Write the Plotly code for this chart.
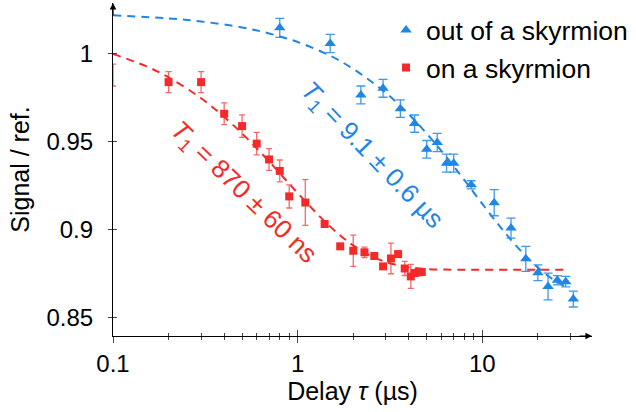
import plotly.graph_objects as go

# ---- data ----
red_x = [0.2, 0.3, 0.4, 0.5, 0.6, 0.7, 0.8, 0.9, 1.1, 1.4, 1.7, 2.0, 2.3, 2.6, 2.9,
         3.2, 3.5, 3.8, 4.1, 4.3, 4.5, 4.7]
red_y = [0.984, 0.984, 0.966, 0.959, 0.949, 0.940, 0.9335, 0.919, 0.9155, 0.9033,
         0.8906, 0.8881, 0.8872, 0.8851, 0.8792, 0.8837, 0.8862, 0.878, 0.8735,
         0.8754, 0.8758, 0.876]
red_err = [0.006, 0.006, 0.0062, 0.0064, 0.0064, 0.0062, 0.0062, 0.0066, 0.013,
           0.001, 0.0015, 0.0089, 0.003, 0.0015, 0.0015, 0.0087, 0.0015, 0.004,
           0.0068, 0.0015, 0.0015, 0.0015]
# point sitting on the left axis edge (only its error bar is visible)
red_edge_x = [0.1]
red_edge_y = [0.988]
red_edge_err = [0.0062]

blue_x = [0.8, 1.5, 2.2, 2.9, 3.6, 4.3, 5.0, 5.7, 6.4, 7.0, 8.7, 11.6, 14.3, 17.2,
          20.0, 22.7, 25.5, 28.3, 31.1]
blue_y = [1.0149, 1.006, 0.9767, 0.9805, 0.9689, 0.9604, 0.9458, 0.9497, 0.9379,
          0.9379, 0.9256, 0.9154, 0.901, 0.8835, 0.8756, 0.8678, 0.8713, 0.8705,
          0.8606]
blue_err = [0.0054, 0.0052, 0.0051, 0.0051, 0.005, 0.0049, 0.005, 0.0052, 0.0051,
            0.0051, 0.0023, 0.0074, 0.0057, 0.0071, 0.0045, 0.0076, 0.0026, 0.003,
            0.0045]

# dashed fit curves
red_fit_x = [0.1, 0.15, 0.2, 0.3, 0.4, 0.5, 0.6, 0.7, 0.8, 0.9, 1.0, 1.2, 1.4, 1.7,
             2.0, 2.5, 3.0, 3.5, 4.0, 5.0, 7.0, 10.0, 29.0]
red_fit_y = [1.0, 0.9932, 0.9867, 0.9748, 0.9642, 0.9548, 0.9464, 0.9389, 0.9322,
             0.9262, 0.9209, 0.912, 0.9048, 0.8968, 0.8911, 0.8851, 0.8817, 0.8798,
             0.8787, 0.8777, 0.8773, 0.8773, 0.8773]
blue_fit_x = [0.1, 0.2, 0.3, 0.5, 0.7, 1.0, 1.5, 2.0, 3.0, 4.0, 5.0, 6.0, 7.0, 8.0,
              10.0, 12.0, 14.0, 17.0, 20.0, 24.0, 29.0]
blue_fit_y = [1.022, 1.0202, 1.0185, 1.0151, 1.0117, 1.0068, 0.999, 0.9915, 0.9779,
              0.9657, 0.9547, 0.9449, 0.9361, 0.9282, 0.9148, 0.904, 0.8954, 0.8856,
              0.8785, 0.872, 0.867]

x_tickvals = [0.1, 1, 10]
x_ticktext = ["0.1", "1", "10"]
x_minor = [0.2, 0.3, 0.4, 0.5, 0.6, 0.7, 0.8, 0.9, 2, 3, 4, 5, 6, 7, 8, 9, 20, 30]
y_tickvals = [0.85, 0.9, 0.95, 1.0]
y_ticktext = ["0.85", "0.9", "0.95", "1"]

BLUE = "#1f86e6"
RED = "#f42a2a"
BLUE_ERR = "rgba(31,134,230,0.85)"
RED_ERR = "rgba(244,42,42,0.7)"
FONT = "Liberation Sans, Arial, Helvetica, sans-serif"

fig = go.Figure()

fig.add_trace(go.Scatter(x=blue_fit_x, y=blue_fit_y, mode="lines", line_shape="spline",
                         line=dict(color=BLUE, width=2, dash="8px,6px"),
                         showlegend=False, hoverinfo="skip"))
fig.add_trace(go.Scatter(x=red_fit_x, y=red_fit_y, mode="lines", line_shape="spline",
                         line=dict(color=RED, width=2, dash="8px,6px"),
                         showlegend=False, hoverinfo="skip"))

fig.add_trace(go.Scatter(x=blue_x, y=blue_y, mode="markers", name="out of a skyrmion",
                         marker=dict(symbol="triangle-up", size=10, color=BLUE),
                         error_y=dict(type="data", array=blue_err, color=BLUE_ERR,
                                      thickness=1.3, width=4.5)))
fig.add_trace(go.Scatter(x=red_x, y=red_y, mode="markers", name="on a skyrmion",
                         marker=dict(symbol="square", size=8, color=RED),
                         error_y=dict(type="data", array=red_err, color=RED_ERR,
                                      thickness=1.3, width=3)))
fig.add_trace(go.Scatter(x=red_edge_x, y=red_edge_y, mode="markers", showlegend=False,
                         marker=dict(symbol="square", size=1, color=RED, opacity=0),
                         error_y=dict(type="data", array=red_edge_err, color=RED_ERR,
                                      thickness=1.3, width=3)))

xr = [-1, 1.594]
yr = [0.8396, 1.029]
axis_font = dict(family=FONT, size=24, color="black")

fig.update_layout(
    width=636, height=412,
    margin=dict(l=113, r=38, t=3, b=76),
    paper_bgcolor="white", plot_bgcolor="white",
    font=dict(family=FONT, size=24, color="black"),
    showlegend=True,
    legend=dict(x=0.57, y=0.99, xanchor="left", yanchor="top",
                font=dict(family=FONT, size=26.5, color="black"),
                bgcolor="rgba(0,0,0,0)", itemwidth=30, tracegroupgap=0),
    xaxis=dict(type="log", range=xr, showgrid=False, zeroline=False,
               showline=True, linecolor="black", linewidth=1.2,
               tickmode="array", tickvals=x_tickvals, ticktext=x_ticktext,
               ticks="outside", ticklen=6, tickcolor="#444", tickwidth=1,
               tickfont=axis_font, ticklabelstandoff=0,
               minor=dict(tickmode="array", tickvals=x_minor, ticks="outside",
                          ticklen=3, tickcolor="#444", showgrid=False),
               title=dict(text="Delay <i>τ</i> (µs)", font=dict(family=FONT, size=25),
                          standoff=4)),
    xaxis2=dict(type="log", range=xr, overlaying="x", anchor="y", side="bottom",
                showgrid=False, zeroline=False, showline=False,
                tickmode="array", tickvals=x_tickvals, showticklabels=False,
                ticks="inside", ticklen=6, tickcolor="#444", tickwidth=1,
                minor=dict(tickmode="array", tickvals=x_minor, ticks="inside",
                           ticklen=3, tickcolor="#444", showgrid=False)),
    yaxis=dict(range=yr, showgrid=False, zeroline=False,
               showline=True, linecolor="black", linewidth=1.2,
               tickmode="array", tickvals=y_tickvals, ticktext=y_ticktext,
               ticks="outside", ticklen=4, tickcolor="#444", tickwidth=1,
               tickfont=axis_font, ticklabelstandoff=10,
               title=dict(text="Signal / ref.", font=dict(family=FONT, size=25),
                          standoff=9)),
    yaxis2=dict(range=yr, overlaying="y", anchor="x", side="left",
                showgrid=False, zeroline=False, showline=False,
                tickmode="array", tickvals=y_tickvals, showticklabels=False,
                ticks="inside", ticklen=4, tickcolor="#444", tickwidth=1),
)

# invisible helper trace so the overlay axes render
fig.add_trace(go.Scatter(x=[0.1], y=[0.9], xaxis="x2", yaxis="y2", mode="markers",
                         marker=dict(opacity=0), showlegend=False, hoverinfo="skip"))

annotations = [
    dict(x=1, y=0, xref="paper", yref="paper", ax=-14, ay=0, text="",
         showarrow=True, arrowhead=2, arrowsize=1.1, arrowwidth=1.2, arrowcolor="black"),
    dict(x=0, y=1, xref="paper", yref="paper", ax=0, ay=14, text="",
         showarrow=True, arrowhead=2, arrowsize=1.1, arrowwidth=1.2, arrowcolor="black"),
    dict(x=-0.295, y=0.9215, xref="x", yref="y", showarrow=False, textangle=44,
         text="<i>T</i><sub>1</sub> = 870 ± 60 ns",
         font=dict(family=FONT, size=26, color=RED)),
    dict(x=0.40, y=0.9425, xref="x", yref="y", showarrow=False, textangle=46,
         text="<i>T</i><sub>1</sub> = 9.1 ± 0.6 µs",
         font=dict(family=FONT, size=26, color=BLUE)),
]
fig.update_layout(annotations=annotations)

fig.write_html("out.html")
